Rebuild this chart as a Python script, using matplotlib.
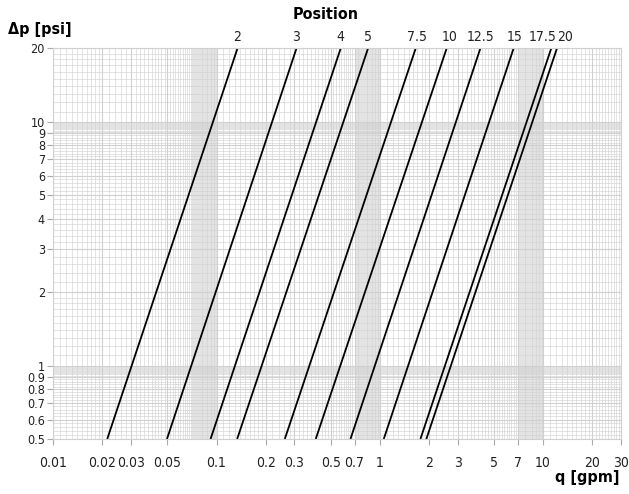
import numpy as np
import matplotlib
matplotlib.use("Agg")
import matplotlib.pyplot as plt
from matplotlib.ticker import FixedLocator, FixedFormatter, NullFormatter

plt.rcParams['font.family'] = ['DejaVu Sans']
plt.rcParams['font.stretch'] = 'condensed'

# positions of the valve and flow read at 0.5 psi and at 20 psi
positions = ['2', '3', '4', '5', '7.5', '10', '12.5', '15', '17.5', '20']
q_at_low = [0.0214, 0.0497, 0.0919, 0.1337, 0.2618, 0.405, 0.661, 1.057, 1.772, 1.927]
q_at_high = [0.1344, 0.3088, 0.576, 0.847, 1.659, 2.567, 4.13, 6.6, 11.22, 12.16]
dp_low, dp_high = 0.5, 20

x_ticks = [0.01, 0.02, 0.03, 0.05, 0.1, 0.2, 0.3, 0.5, 0.7, 1, 2, 3, 5, 7, 10, 20, 30]
x_labels = ['0.01', '0.02', '0.03', '0.05', '0.1', '0.2', '0.3', '0.5', '0.7', '1', '2', '3', '5', '7', '10', '20', '30']
y_ticks = [0.5, 0.6, 0.7, 0.8, 0.9, 1, 2, 3, 4, 5, 6, 7, 8, 9, 10, 20]
y_labels = ['0.5', '0.6', '0.7', '0.8', '0.9', '1', '2', '3', '4', '5', '6', '7', '8', '9', '10', '20']

# small sideways nudge (points) of the position labels that sit close together
label_shift = [0, 0, 0, 0, 1, 2, 0, 1, -6, 6]


def log_paper(lo, hi, fine_from):
    # log-paper style grid: fine steps at 1-2 and near the decade end, coarser in between
    mant = (list(np.arange(1.0, 2.0, 0.1)) + list(np.arange(2.0, fine_from, 0.2))
            + list(np.arange(fine_from, 10.0, 0.1)))
    vals = []
    for dec in [0.01, 0.1, 1]:
        vals += [m * dec for m in mant]
    vals += list(np.arange(10, 31, 1))
    return [v for v in vals if lo - 1e-9 <= v <= hi + 1e-9]


fig = plt.figure(figsize=(6.29, 4.94), dpi=100)
ax = fig.add_axes([0.0847, 0.1113, 0.9026, 0.791])
ax.set_xscale('log')
ax.set_yscale('log')
ax.set_xlim(0.01, 30)
ax.set_ylim(dp_low, dp_high)

grid_col = '#d0d0d0'
ax.xaxis.set_minor_locator(FixedLocator(log_paper(0.01, 30, 7.0)))
ax.yaxis.set_minor_locator(FixedLocator(log_paper(0.5, 20, 9.0)))
ax.xaxis.set_minor_formatter(NullFormatter())
ax.yaxis.set_minor_formatter(NullFormatter())
ax.xaxis.set_major_locator(FixedLocator(x_ticks))
ax.xaxis.set_major_formatter(FixedFormatter(x_labels))
ax.yaxis.set_major_locator(FixedLocator(y_ticks))
ax.yaxis.set_major_formatter(FixedFormatter(y_labels))
ax.grid(which='minor', color=grid_col, lw=0.55, alpha=0.75)
ax.grid(which='major', color=grid_col, lw=0.8)
ax.set_axisbelow(True)
ax.tick_params(which='minor', length=0)
ax.tick_params(which='major', length=4, width=0.8, color='#aaaaaa',
               labelsize=10, labelcolor='#222222', pad=2)
ax.tick_params(axis='x', pad=8)
ax.tick_params(axis='y', labelsize=9)
for s in ax.spines.values():
    s.set_color(grid_col)
    s.set_linewidth(0.8)

for pos, qa, qb, dx in zip(positions, q_at_low, q_at_high, label_shift):
    ax.plot([qa, qb], [dp_low, dp_high], color='black', lw=1.3, solid_capstyle='butt')
    ax.annotate(pos, (qb, dp_high), xytext=(dx, 3), textcoords='offset points',
                ha='center', va='bottom', fontsize=10, color='#222222')

bold = dict(fontsize=11.5, fontweight='bold')
fig.text(0.517, 0.97, 'Position', ha='center', va='center', **bold)
fig.text(0.012, 0.94, 'Δp [psi]', ha='left', va='center', **bold)
fig.text(0.985, 0.033, 'q [gpm]', ha='right', va='center', **bold)

fig.savefig('out.png', dpi=100)
